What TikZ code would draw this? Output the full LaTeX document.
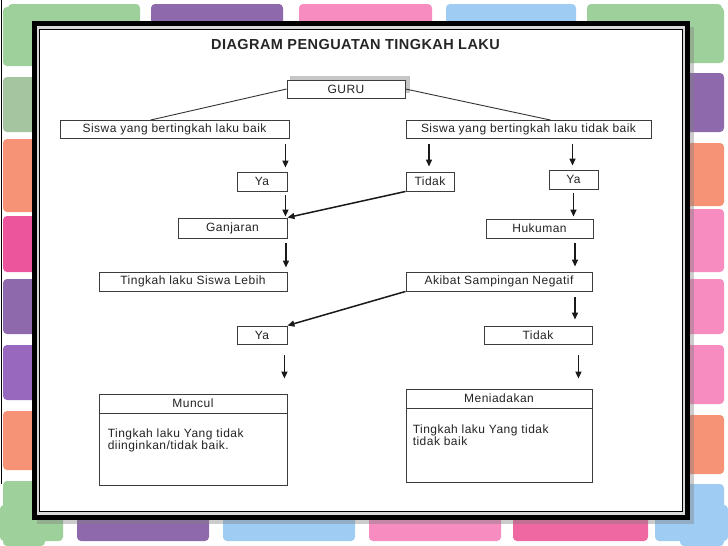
\documentclass[tikz,border=0pt]{standalone}
\usepackage{fontspec}
\setmainfont{Liberation Sans}
\newfontfamily\boxfont[LetterSpace=4]{Liberation Sans}
\newfontfamily\titlefont[LetterSpace=3]{Liberation Sans}
\usepackage{xcolor}
\usetikzlibrary{arrows.meta}
\usetikzlibrary{positioning}

\definecolor{tilegreen}{RGB}{158,208,156}
\definecolor{tilesage}{RGB}{165,196,160}
\definecolor{tilepurple}{RGB}{142,106,172}
\definecolor{tileviolet}{RGB}{152,104,190}
\definecolor{tilepink}{RGB}{246,140,192}
\definecolor{tilehotpink}{RGB}{239,104,162}
\definecolor{tilemagenta}{RGB}{236,84,156}
\definecolor{tileblue}{RGB}{158,204,242}
\definecolor{tileorange}{RGB}{246,146,118}
\definecolor{boxline}{RGB}{60,60,60}
\definecolor{boxtext}{RGB}{35,35,35}

\begin{document}
\begin{tikzpicture}[
        x=1pt, y=-1pt,
        % 
        tile/.style={rounded corners=4pt},
        % 
        box/.style={
            draw=boxline,
            line width=0.9pt,
            fill=white,
            inner sep=0pt,
            minimum height=19pt,
            font=\boxfont\fontsize{12}{12}\selectfont,
            text=boxtext,
        },
        body text/.style={
            inner sep=0pt,
            anchor=north west,
            align=left,
            font=\boxfont\fontsize{12}{12}\selectfont,
            text=boxtext,
        },
        plain edge/.style={line width=0.9pt, black!80},
        flow edge/.style={-{Triangle[length=7pt,width=6pt]}, line width=1.5pt, black!90}
        ]

        \useasboundingbox (0,0) rectangle (728,546);
        \fill[white] (0,0) rectangle (728,546);

        % Tiles
        
        \foreach \a/\b/\c in {8/140/tilegreen, 151/283/tilepurple, 299/432/tilepink, 446/576/tileblue, 587/722/tilegreen}
            \fill[\c, tile] (\a,4) rectangle (\b,40);
        \foreach \a/\b/\c in {7/66/tilegreen, 77/132/tilesage, 139/212/tileorange, 216/272/tilemagenta, 279/334/tilepurple, 345/400/tileviolet, 411/470/tileorange, 481/546/tilegreen}
            \fill[\c, tile] (3,\a) rectangle (45,\b);
        \foreach \a/\b/\c in {7/63/tilegreen, 73/132/tilepurple, 143/206/tileorange, 209/272/tilepink, 279/334/tilepink, 345/404/tilepink, 415/474/tileorange, 484/546/tileblue}
            \fill[\c, tile] (680,\a) rectangle (724,\b);
        \foreach \a/\b/\c in {0/63/tilegreen, 77/209/tilepurple, 223/355/tileblue, 369/501/tilepink, 513/648/tilehotpink, 655/728/tileblue}
            \fill[\c, tile] (\a,505) rectangle (\b,541);
        \draw[line width=1pt] (1,0) -- (1,484);

        % Frame
        
        \fill[black!50, opacity=0.4] (37,27) rectangle (694,524);
        \draw[line width=5pt, fill=gray!30] (34.5,23.5) rectangle (687.5,517.5);
        \draw[line width=1.5pt, fill=white] (39.5,29.5) rectangle (682.5,511.5);

        % Vertices
        
        \node[font=\titlefont\bfseries\fontsize{14.5}{16}\selectfont, text=black!85] (Judul) at (355.5,45) {DIAGRAM PENGUATAN TINGKAH LAKU};
        
        \fill[gray!45] (290,76) rectangle (410,93);
        \node[box, minimum width=118pt, minimum height=18pt] (Guru) at (346,89) {GURU};
        \node[box, minimum width=229pt, minimum height=18pt] (Baik) at (174.5,129.5) {Siswa yang bertingkah laku baik};
        \node[box, minimum width=245pt, minimum height=18pt] (TidakBaik) at (528.5,129.5) {Siswa yang bertingkah laku tidak baik};
        \node[box, minimum width=50pt] (Ya1) at (262,181.5) {Ya};
        \node[box, minimum width=48pt] (Tidak1) at (430,181.5) {Tidak};
        \node[box, minimum width=49pt] (Ya2) at (573.5,179.5) {Ya};
        \node[box, minimum width=109pt, minimum height=20pt] (Ganjaran) at (232.5,228) {Ganjaran};
        \node[box, minimum width=107pt] (Hukuman) at (539.5,228.5) {Hukuman};
        \node[box, minimum width=188pt] (Lebih) at (193,281.5) {Tingkah laku Siswa Lebih};
        \node[box, minimum width=186pt] (Akibat) at (499,281.5) {Akibat Sampingan Negatif};
        \node[box, minimum width=50pt, minimum height=18pt] (Ya3) at (262,335) {Ya};
        \node[box, minimum width=108pt, minimum height=18pt] (Tidak2) at (538,335) {Tidak};
        
        \node[box, minimum width=188pt] (Muncul) at (193,403.5) {Muncul};
        \node[box, minimum width=188pt, minimum height=72pt, below=0pt of Muncul] (MunculBody) {};
        \node[body text] (MunculText) at ([xshift=9pt, yshift=-15pt]MunculBody.north west) {Tingkah laku Yang tidak\\diinginkan/tidak baik.};
        
        \node[box, minimum width=186pt] (Meniadakan) at (499,398.5) {Meniadakan};
        \node[box, minimum width=186pt, minimum height=74pt, below=0pt of Meniadakan] (MeniadakanBody) {};
        \node[body text] (MeniadakanText) at ([xshift=7pt, yshift=-16pt]MeniadakanBody.north west) {Tingkah laku Yang tidak\\tidak baik};

        % Edges
        
        \draw[plain edge] (Guru.west) -- ([xshift=-24pt]Baik.north);
        \draw[plain edge] (Guru.east) -- ([xshift=22pt]TidakBaik.north);
        %
        \draw[flow edge, shorten <=5pt, shorten >=4pt] ([xshift=-4pt]Baik.south east) -- ([xshift=-4pt]Baik.south east |- Ya1.north);
        \draw[flow edge, shorten <=4pt, shorten >=1pt] ([xshift=-2pt]Ya1.south east) -- ([xshift=-2pt]Ya1.south east |- Ganjaran.north);
        \draw[flow edge, shorten <=5pt, shorten >=4pt] ([xshift=-1.5pt]Ganjaran.south east) -- ([xshift=-1.5pt]Ganjaran.south east |- Lebih.north);
        %
        \draw[flow edge, shorten <=5pt, shorten >=5pt] ([xshift=-1pt]Tidak1.north |- TidakBaik.south) -- ([xshift=-1pt]Tidak1.north);
        \draw[flow edge] (Tidak1.south west) -- (Ganjaran.north east);
        %
        \draw[flow edge, shorten <=5pt, shorten >=4pt] ([xshift=-1pt]Ya2.north |- TidakBaik.south) -- ([xshift=-1pt]Ya2.north);
        \draw[flow edge, shorten <=4pt, shorten >=2pt] (Ya2.south) -- (Ya2.south |- Hukuman.north);
        \draw[flow edge, shorten <=5pt, shorten >=5pt] ([xshift=1.5pt]Ya2.south |- Hukuman.south) -- ([xshift=1.5pt]Ya2.south |- Akibat.north);
        \draw[flow edge, shorten <=6pt, shorten >=6pt] ([xshift=1.5pt]Ya2.south |- Akibat.south) -- ([xshift=1.5pt]Ya2.south |- Tidak2.north);
        \draw[flow edge] (Akibat.south west) -- (Ya3.north east);
        %
        \draw[flow edge, shorten <=11pt, shorten >=15pt] ([xshift=-3pt]Ya3.south east) -- ([xshift=-3pt]Ya3.south east |- Muncul.north);
        \draw[flow edge, shorten <=11pt, shorten >=10pt] ([xshift=-14pt]Tidak2.south east) -- ([xshift=-14pt]Tidak2.south east |- Meniadakan.north);
        % 
    \end{tikzpicture}
\end{document}
